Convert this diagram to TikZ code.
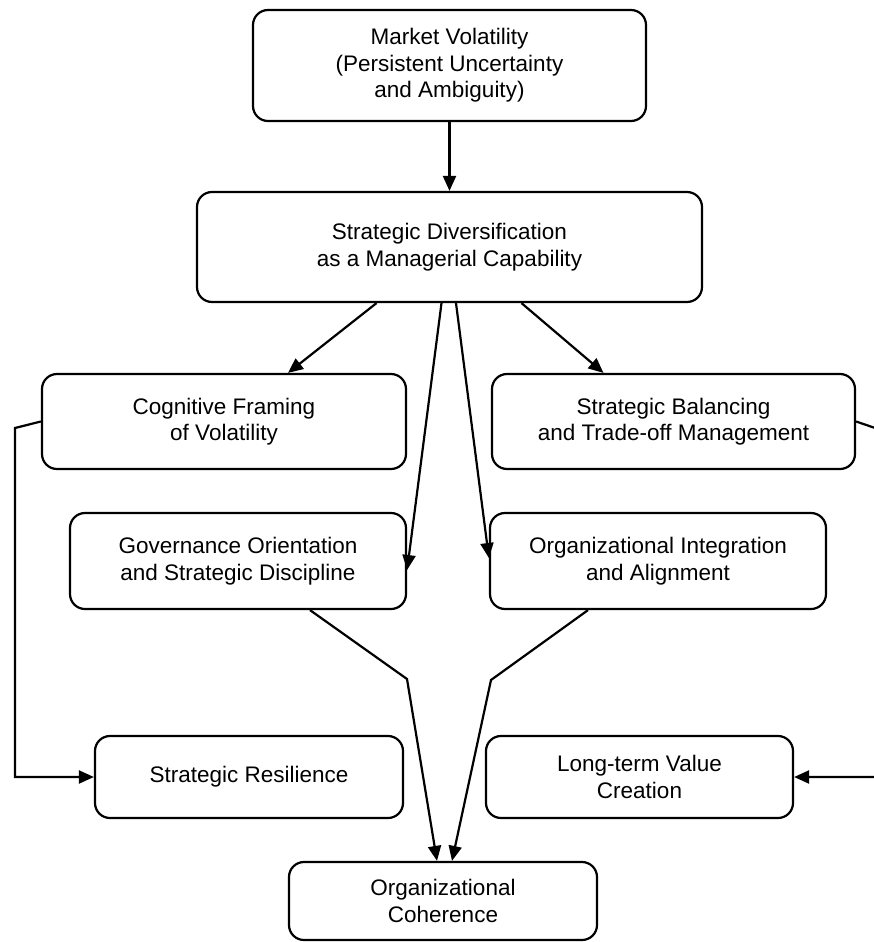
\documentclass[tikz,border=0pt]{standalone}
\usepackage{fontspec}
\setmainfont{Liberation Sans}
\usetikzlibrary{arrows.meta,positioning}
\tikzset{
  fw/.style={x=1pt, y=-1pt, >={Triangle[length=15pt,width=13pt]}, line width=2.2pt,
             every node/.style={font=\fontsize{22.5}{26.5}\selectfont}},
  box/.style={draw, rounded corners=15pt, align=center, inner sep=0pt, line width=2.2pt},
  flow/.style={->, line width=2.2pt},
  side/.style={->, line width=2.2pt, rounded corners=0pt}
}

\begin{document}
\begin{tikzpicture}[fw]
\useasboundingbox (0,0) rectangle (874,942);
\node[box, minimum width=393pt, minimum height=111pt] (mv) at (449.5,65.5) {Market Volatility\\(Persistent Uncertainty\\and Ambiguity)};
\node[box, minimum width=505pt, minimum height=110pt] (sd) at (449.5,247) {Strategic Diversification\\as a Managerial Capability};
\node[box, minimum width=364pt, minimum height=95pt] (cf) at (224,421.5) {Cognitive Framing\\of Volatility};
\node[box, minimum width=363pt, minimum height=95pt] (sb) at (673.5,421.5) {Strategic Balancing\\and Trade-off Management};
\node[box, minimum width=336pt, minimum height=96pt] (go) at (238,561) {Governance Orientation\\and Strategic Discipline};
\node[box, minimum width=336pt, minimum height=96pt] (oi) at (658,561) {Organizational Integration\\and Alignment};
\node[box, minimum width=308pt, minimum height=82pt] (sr) at (249,777) {Strategic Resilience};
\node[box, minimum width=307pt, minimum height=82pt] (lv) at (639.5,777) {Long-term Value\\Creation};
\node[box, minimum width=308pt, minimum height=78pt] (oc) at (443,901) {Organizational\\Coherence};
\coordinate (gobend) at (407,679);
\coordinate (oibend) at (491,680);
\coordinate (cfout) at (15,428);
\coordinate (cfdown) at (15,777);
\coordinate (sbout) at (878,429);
\coordinate (sbdown) at (878,777);
\draw[flow] (mv.south) -- (sd.north);
\draw[flow] ([xshift=-73pt]sd.south) -- ([xshift=64pt]cf.north);
\draw[flow] ([xshift=72pt]sd.south) -- ([xshift=-70pt]sb.north);
\draw[flow] ([xshift=-8pt]sd.south) -- ([yshift=-9pt]go.east);
\draw[flow] ([xshift=6.5pt]sd.south) -- ([yshift=3pt]oi.west);
\draw[flow] ([xshift=72pt]go.south) -- (gobend) -- ([xshift=-6pt]oc.north);
\draw[flow] ([xshift=-70pt]oi.south) -- (oibend) -- ([xshift=9pt]oc.north);
\draw[side] (cf.west) -- (cfout) -- (cfdown) -- (sr.west);
\draw[side] (sb.east) -- (sbout) -- (sbdown) -- (lv.east);
\end{tikzpicture}
\end{document}
